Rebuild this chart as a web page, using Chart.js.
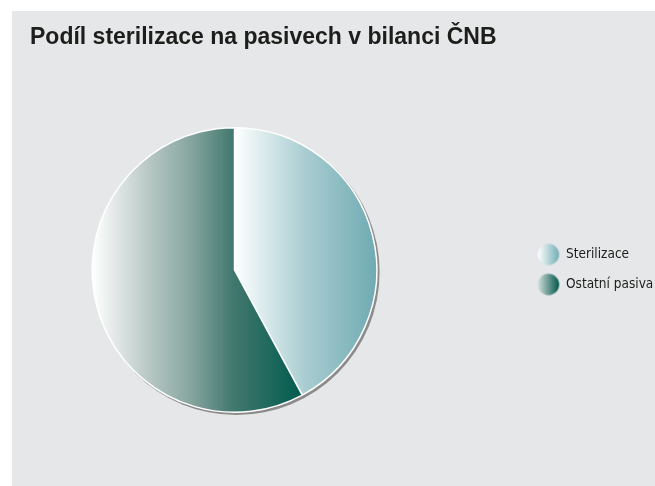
<!DOCTYPE html>
<html>
<head>
<meta charset="utf-8">
<script src="https://cdn.jsdelivr.net/npm/chart.js@4.4.1/dist/chart.umd.min.js"></script>
<style>
  html, body { margin: 0; padding: 0; background: #ffffff; }
  #wrap { width: 655px; height: 486px; }
  canvas { display: block; }
</style>
</head>
<body>
<div id="wrap"><canvas id="c" width="655" height="486"></canvas></div>
<script>
// ---- data ----
const titleText = 'Podíl sterilizace na pasivech v bilanci ČNB';
const categories = ['Sterilizace', 'Ostatní pasiva'];
const shares = [42.1, 57.9];

// ---- styles ----
const sliceStops = [
  [[0, '#ffffff'], [0.5, '#a8cdd1'], [1, '#6faab2']],
  [[0, '#ffffff'], [0.28, '#b5c6c2'], [0.47, '#86a59f'], [0.67, '#42786f'], [1, '#005b4d']]
];
const legendStops = [
  [[0, '#ffffff'], [1, '#72aeb5']],
  [[0, '#d5dedc'], [1, '#00574a']]
];
const PIE_RADIUS = 142.3;
const LEGEND_FONT_SIZE = 13.5;
const textFamily = '"DejaVu Sans Condensed", "Liberation Sans Narrow", "Liberation Sans", sans-serif';
const titleFamily = '"Liberation Sans", Arial, sans-serif';

// width of the longest legend label, used to keep the legend flush with the right edge
const measureCtx = document.createElement('canvas').getContext('2d');
measureCtx.font = LEGEND_FONT_SIZE + 'px ' + textFamily;
const legendTextWidth = Math.max(...categories.map(t => measureCtx.measureText(t).width));

// legend icons: gradient circles drawn on small canvases
function makeIcon(stops) {
  const cv = document.createElement('canvas');
  cv.width = 110; cv.height = 24;
  const g = cv.getContext('2d');
  const cx = 96.1, cy = 12, r = 10.7;
  const grad = g.createLinearGradient(cx - r, 0, cx + r, 0);
  stops.forEach(s => grad.addColorStop(s[0], s[1]));
  g.beginPath();
  g.arc(cx, cy, r, 0, Math.PI * 2);
  g.fillStyle = grad;
  g.fill();
  return cv;
}
const legendIcons = legendStops.map(makeIcon);

function sliceGradient(context) {
  const chart = context.chart;
  const area = chart.chartArea;
  const i = context.dataIndex;
  const fallback = sliceStops[i][sliceStops[i].length - 1][1];
  if (!area) return fallback;
  const cx = (area.left + area.right) / 2;
  const total = shares.reduce((a, b) => a + b, 0);
  let start = -Math.PI / 2;
  for (let j = 0; j < i; j++) start += 2 * Math.PI * shares[j] / total;
  const end = start + 2 * Math.PI * shares[i] / total;
  const r = PIE_RADIUS;
  const xs = [cx, cx + r * Math.cos(start), cx + r * Math.cos(end)];
  const inArc = (a) => {
    for (let k = -2; k <= 2; k++) {
      const t = a + k * 2 * Math.PI;
      if (t >= start && t <= end) return true;
    }
    return false;
  };
  if (inArc(0)) xs.push(cx + r);
  if (inArc(Math.PI)) xs.push(cx - r);
  const minX = Math.min(...xs), maxX = Math.max(...xs);
  const grad = chart.ctx.createLinearGradient(minX, 0, maxX, 0);
  sliceStops[i].forEach(s => grad.addColorStop(s[0], s[1]));
  return grad;
}

const panelPlugin = {
  id: 'panel',
  beforeDraw(chart) {
    const c = chart.ctx;
    c.save();
    c.fillStyle = '#ffffff';
    c.fillRect(0, 0, chart.width, chart.height);
    c.fillStyle = '#e6e7e8';
    c.fillRect(12, 11, chart.width - 12, chart.height - 11);
    c.restore();
  }
};

const shadowPlugin = {
  id: 'pieShadow',
  beforeDatasetsDraw(chart) {
    const arc = chart.getDatasetMeta(0).data[0];
    if (!arc) return;
    const p = arc.getProps(['x', 'y', 'outerRadius'], true);
    const c = chart.ctx;
    c.save();
    c.filter = 'blur(0.7px)';
    c.beginPath();
    c.arc(p.x + 2, p.y + 2, p.outerRadius + 0.8, 0, Math.PI * 2);
    c.fillStyle = '#8b8b8b';
    c.fill();
    c.restore();
  }
};

new Chart(document.getElementById('c'), {
  type: 'pie',
  data: {
    labels: categories,
    datasets: [{
      data: shares,
      backgroundColor: sliceGradient,
      borderColor: '#ffffff',
      borderWidth: 1.5,
      hoverOffset: 0
    }]
  },
  options: {
    responsive: false,
    animation: false,
    radius: PIE_RADIUS,
    layout: { padding: { left: 30, top: 11, right: 79 - legendTextWidth, bottom: 177.25 } },
    plugins: {
      tooltip: { enabled: false },
      title: {
        display: true,
        text: titleText,
        align: 'start',
        color: '#1d1d1b',
        font: { family: titleFamily, size: 23, weight: 'bold', lineHeight: 1.2 },
        padding: { top: 13, bottom: 179.65 }
      },
      legend: {
        position: 'right',
        align: 'start',
        fullSize: false,
        labels: {
          usePointStyle: true,
          pointStyleWidth: 103.75,
          padding: 16.5,
          color: '#1d1d1b',
          font: { family: textFamily, size: LEGEND_FONT_SIZE },
          generateLabels: (chart) => categories.map((label, i) => ({
            text: label,
            fillStyle: 'rgba(0,0,0,0)',
            strokeStyle: 'rgba(0,0,0,0)',
            lineWidth: 0,
            pointStyle: legendIcons[i],
            fontColor: '#1d1d1b',
            hidden: !chart.getDataVisibility(i),
            index: i
          }))
        }
      }
    }
  },
  plugins: [panelPlugin, shadowPlugin]
});
</script>
</body>
</html>
